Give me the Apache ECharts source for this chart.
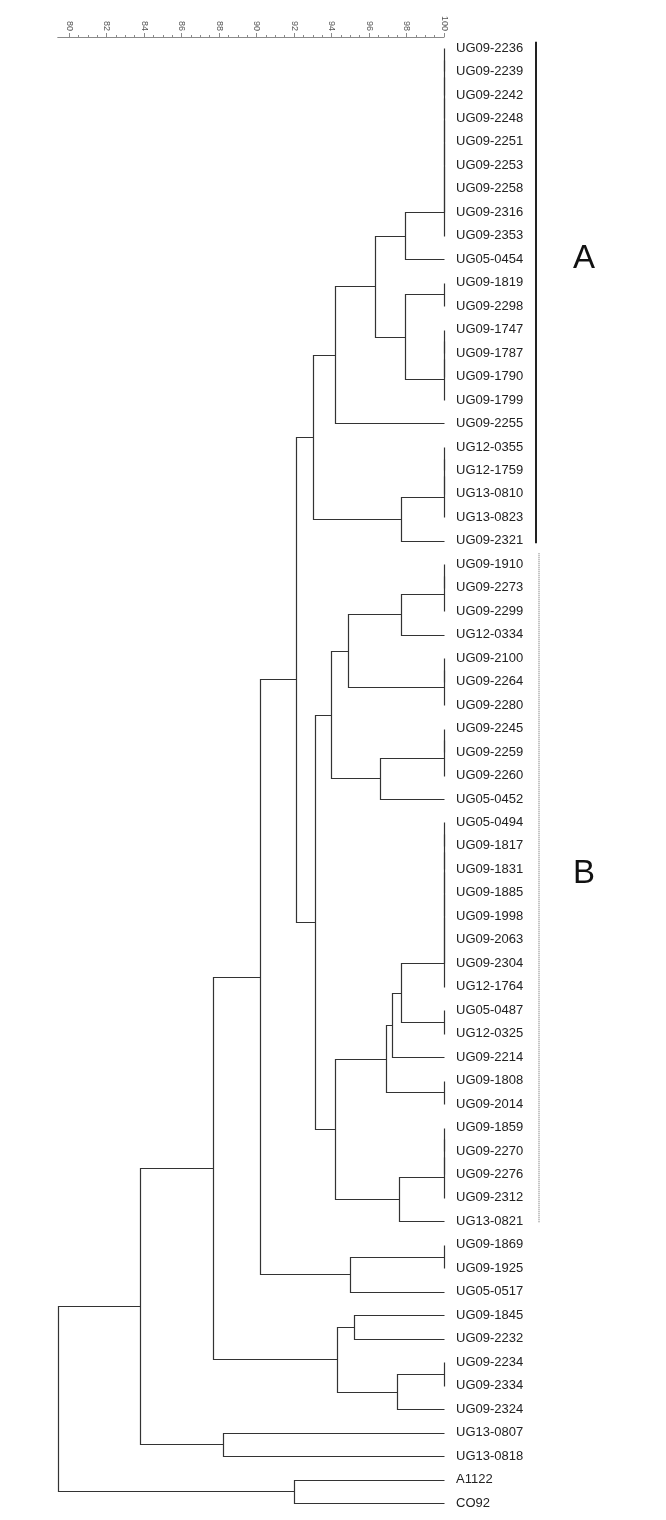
<!DOCTYPE html>
<html><head><meta charset="utf-8">
<script src="https://cdn.jsdelivr.net/npm/echarts@6/dist/echarts.min.js"></script>
<style>html,body{margin:0;padding:0;background:#fff}#c{width:666px;height:1520px}</style>
</head><body><div id="c"></div>
<script>
// Leaf labels, top to bottom
const leaves = [
 'UG09-2236','UG09-2239','UG09-2242','UG09-2248','UG09-2251','UG09-2253','UG09-2258','UG09-2316','UG09-2353','UG05-0454',
 'UG09-1819','UG09-2298','UG09-1747','UG09-1787','UG09-1790','UG09-1799','UG09-2255','UG12-0355','UG12-1759','UG13-0810',
 'UG13-0823','UG09-2321','UG09-1910','UG09-2273','UG09-2299','UG12-0334','UG09-2100','UG09-2264','UG09-2280','UG09-2245',
 'UG09-2259','UG09-2260','UG05-0452','UG05-0494','UG09-1817','UG09-1831','UG09-1885','UG09-1998','UG09-2063','UG09-2304',
 'UG12-1764','UG05-0487','UG12-0325','UG09-2214','UG09-1808','UG09-2014','UG09-1859','UG09-2270','UG09-2276','UG09-2312',
 'UG13-0821','UG09-1869','UG09-1925','UG05-0517','UG09-1845','UG09-2232','UG09-2234','UG09-2334','UG09-2324','UG13-0807',
 'UG13-0818','A1122','CO92'
];
// Groups of identical (100 %) leaves: [id, first leaf, last leaf]
const identical = [
 ['g1',0,8],['g2',10,11],['g3',12,15],['g4',17,20],['g5',22,24],['g6',26,28],['g7',29,31],
 ['g8',33,40],['g9',41,42],['g10',44,45],['g11',46,49],['g12',51,52],['g13',56,57]
];
// Clustering merges: [id, child A, child B, similarity %]
const merges = [
 ['A2','g1',9,97.9],
 ['A4','g2','g3',97.9],
 ['A3','A2','A4',96.3],
 ['A5','A3',16,94.2],
 ['A7','g4',21,97.7],
 ['A6','A5','A7',93.0],
 ['B2','g5',25,97.7],
 ['B3','B2','g6',94.9],
 ['B5','g7',32,96.6],
 ['B4','B3','B5',94.0],
 ['C1','g8','g9',97.7],
 ['C2','C1',43,97.2],
 ['C3','C2','g10',96.9],
 ['C5','g11',50,97.6],
 ['C4','C3','C5',94.2],
 ['B6','B4','C4',93.1],
 ['G','A6','B6',92.1],
 ['D2','g12',53,95.0],
 ['H','G','D2',90.2],
 ['E',54,55,95.2],
 ['E2','g13',58,97.5],
 ['E3','E','E2',94.3],
 ['I','H','E3',87.7],
 ['F',59,60,88.2],
 ['J','I','F',83.8],
 ['K',61,62,92.0],
 ['R','J','K',79.4]
];
const treeMin = 79.4, treeMax = 100;
const scaleMin = 80, scaleMax = 100, scaleStep = 2;
// Cluster brackets on the right
const groupNames = ['A','B'];
const groupSpans = [[-0.27, 21.1],[21.53, 50.08]];
const groupLabelRow = [9, 35.2];

// ---- build bracket segments ----
const nodeY = {}, nodeSim = {};
leaves.forEach((n,i)=>{ nodeY[i]=i; nodeSim[i]=treeMax; });
const brackets = [];
function join(id,a,b,sim){
  const ya=nodeY[a], yb=nodeY[b];
  brackets.push([sim, ya, yb, nodeSim[a], nodeSim[b]]);
  nodeY[id]=(ya+yb)/2; nodeSim[id]=sim;
}
identical.forEach(([id,first,last])=>{
  let cur=first;
  for(let i=first+1;i<=last;i++){ const nid = (i===last)? id : id+'_'+i; join(nid,cur,i,100); cur=nid; }
});
merges.forEach(m=>join(m[0],m[1],m[2],m[3]));

const groupData = groupNames.map((g,i)=>[groupSpans[i][0], groupSpans[i][1], groupLabelRow[i], i]);

const chart = echarts.init(document.getElementById('c'), null, {renderer:'canvas'});
const px = v => Math.round(v)+0.5;
chart.setOption({
  animation:false,
  backgroundColor:'#fff',
  grid:[
    {left:57.75, right:222, top:48, bottom:17},
    {left:69, right:222, top:48, bottom:17}
  ],
  xAxis:[
    {gridIndex:0, type:'value', min:treeMin, max:treeMax, position:'top', offset:11,
     axisLine:{show:true, onZero:false, lineStyle:{color:'#8a8a8a', width:1}}, axisTick:{show:false}, axisLabel:{show:false}, splitLine:{show:false}},
    {gridIndex:1, type:'value', min:scaleMin, max:scaleMax, interval:scaleStep, position:'top', offset:11,
     axisLine:{show:false, onZero:false}, axisTick:{show:true, length:4, lineStyle:{color:'#8a8a8a'}},
     minorTick:{show:true, splitNumber:4, length:2, lineStyle:{color:'#8a8a8a'}},
     axisLabel:{show:true, rotate:90, fontSize:9, color:'#555', margin:6, fontFamily:'Liberation Sans'},
     splitLine:{show:false}}
  ],
  yAxis:[
    {gridIndex:0, type:'value', min:0, max:leaves.length-1, inverse:true, show:false},
    {gridIndex:0, type:'category', data:leaves, position:'right', boundaryGap:false, inverse:true,
     axisLine:{show:false, onZero:false}, axisTick:{show:false}, splitLine:{show:false},
     axisLabel:{show:true, interval:0, margin:12, fontSize:13, color:'#222', fontFamily:'Liberation Sans'}},
    {gridIndex:1, type:'value', show:false, min:0, max:1}
  ],
  series:[
    {type:'custom', name:'tree', xAxisIndex:0, yAxisIndex:0, silent:true, clip:false,
     data:brackets,
     renderItem:function(params, api){
       const s=api.value(0), ya=api.value(1), yb=api.value(2), sa=api.value(3), sb=api.value(4);
       const A=api.coord([sa,ya]), N1=api.coord([s,ya]), N2=api.coord([s,yb]), B=api.coord([sb,yb]);
       return {type:'polyline', shape:{points:[[px(A[0]),px(A[1])],[px(N1[0]),px(N1[1])],[px(N2[0]),px(N2[1])],[px(B[0]),px(B[1])]]},
               style:{stroke:'#333', lineWidth:1.2, fill:'none'}};
     }},
    {type:'custom', name:'groups', xAxisIndex:0, yAxisIndex:0, silent:true, clip:false,
     data:groupData,
     renderItem:function(params, api){
       const y0=api.value(0), y1=api.value(1), yl=api.value(2), gi=api.value(3);
       const right = api.coord([treeMax, 0])[0];
       const p0=api.coord([treeMax,y0]), p1=api.coord([treeMax,y1]), pl=api.coord([treeMax,yl]);
       const solid = gi===0;
       const x = solid ? right+92 : right+95;
       return {type:'group', children:[
         {type:'line', shape:{x1:x, y1:p0[1], x2:x, y2:p1[1]},
          style:solid ? {stroke:'#222', lineWidth:2} : {stroke:'#666', lineWidth:1, lineDash:[1,1]}},
         {type:'text', style:{text:groupNames[gi], x:right+140, y:pl[1], fontSize:33, fontFamily:'Liberation Sans',
          fill:'#111', align:'center', verticalAlign:'middle'}}
       ]};
     }}
  ]
});
</script></body></html>
